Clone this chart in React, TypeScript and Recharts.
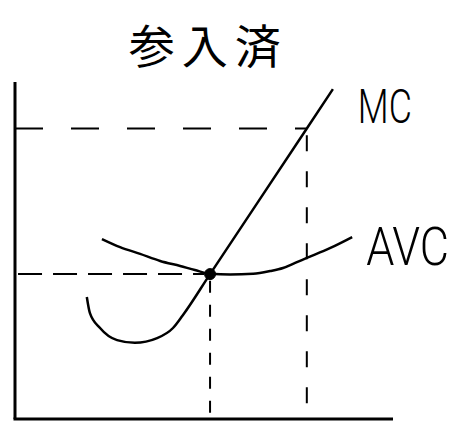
import React from 'react';
import { LineChart, Line, XAxis, YAxis, ReferenceLine, ReferenceDot } from 'recharts';

// hand-drawn cost curves (quantity / cost on 0..100 scales)
const mcQty = [19.0, 19.8, 22.5, 27.0, 31.7, 37.6, 41.8, 44.4, 51.6, 77.2, 84.1];
const mcCost = [36.2, 31.5, 27.0, 23.4, 22.6, 24.0, 27.0, 30.8, 43.0, 86.2, 97.9];

const avcQty = [23.0, 27.8, 33.1, 38.4, 43.7, 47.6, 51.6, 56.9, 63.0, 67.5, 70.9, 74.1, 77.2, 83.3, 89.2];
const avcCost = [53.4, 51.0, 49.0, 46.9, 45.4, 44.2, 43.1, 42.9, 43.1, 43.9, 44.8, 46.3, 47.8, 50.7, 54.0];

// guide levels: price at min AVC / high price, and matching quantities
const priceLevels = [43.0, 86.2];
const qtyLevels = [51.6, 77.2];

const titleText = '参入済';
const curveNames = ['MC', 'AVC'];

const mcData = mcQty.map((q, i) => ({ q, c: mcCost[i] }));
const avcData = avcQty.map((q, i) => ({ q, c: avcCost[i] }));

const handFont = 'Roboto, Inter, "Noto Sans", sans-serif';

const makeLabel = (value: string, opts: { size: number; width?: number; anchor: 'start' | 'middle'; font: string; weight?: number; spacing?: number; central?: boolean; stretchY?: number }) =>
    (props: any) => {
        const vb = props.viewBox || {};
        const x = vb.x + (vb.width || 0) / 2;
        const y = vb.y + (vb.height || 0) / 2;
        const sy = opts.stretchY || 1;
        return (
            <text
                x={0}
                y={0}
                transform={`translate(${x},${y}) scale(1,${sy})`}
                fill="#000"
                fontSize={opts.size}
                fontFamily={opts.font}
                fontWeight={opts.weight || 300}
                textAnchor={opts.anchor}
                dominantBaseline={opts.central ? 'central' : 'alphabetic'}
                letterSpacing={opts.spacing}
                textLength={opts.width}
                lengthAdjust={opts.width ? 'spacingAndGlyphs' : undefined}
            >
                {value}
            </text>
        );
    };

export default function App() {
    return (
        <div style={{ position: 'absolute', left: 0, top: 0, width: 457, height: 422, background: '#fff' }}>
            <LineChart width={457} height={422} margin={{ top: 82, right: 64, bottom: 3, left: 15 }}>
                <XAxis type="number" dataKey="q" domain={[0, 100]} allowDataOverflow hide />
                <YAxis type="number" dataKey="c" domain={[0, 100]} allowDataOverflow hide />

                {/* axes, drawn thick like the sketch */}
                <ReferenceLine segment={[{ x: 0, y: 100 }, { x: 0, y: 0 }]} stroke="#000" strokeWidth={3} ifOverflow="visible" />
                <ReferenceLine segment={[{ x: -0.4, y: 0 }, { x: 100, y: 0 }]} stroke="#000" strokeWidth={3} ifOverflow="visible" />

                <ReferenceLine
                    segment={[{ x: 0.8, y: priceLevels[0] }, { x: 50, y: priceLevels[0] }]}
                    stroke="#000"
                    strokeWidth={2}
                    strokeDasharray="24 11"
                    ifOverflow="visible"
                />
                <ReferenceLine
                    segment={[{ x: 0, y: priceLevels[1] }, { x: qtyLevels[1], y: priceLevels[1] }]}
                    stroke="#000"
                    strokeWidth={2}
                    strokeDasharray="28 28"
                    ifOverflow="visible"
                />
                <ReferenceLine
                    segment={[{ x: qtyLevels[0], y: priceLevels[0] - 2 }, { x: qtyLevels[0], y: 0 }]}
                    stroke="#000"
                    strokeWidth={2}
                    strokeDasharray="12 12"
                    ifOverflow="visible"
                />
                <ReferenceLine
                    segment={[{ x: qtyLevels[1], y: priceLevels[1] - 2 }, { x: qtyLevels[1], y: 0 }]}
                    stroke="#000"
                    strokeWidth={2}
                    strokeDasharray="16 20"
                    ifOverflow="visible"
                />

                <Line data={avcData} dataKey="c" type="monotone" stroke="#000" strokeWidth={2.5} dot={false} isAnimationActive={false} />
                <Line data={mcData} dataKey="c" type="monotone" stroke="#000" strokeWidth={2.5} dot={false} isAnimationActive={false} />

                <ReferenceDot x={qtyLevels[0]} y={priceLevels[0]} r={5.5} fill="#000" stroke="#000" ifOverflow="visible" />

                <ReferenceDot
                    x={51.1}
                    y={111.6}
                    r={0}
                    fill="none"
                    stroke="none"
                    ifOverflow="visible"
                    label={makeLabel(titleText, { size: 46, anchor: 'middle', font: '"Noto Sans CJK JP", sans-serif', weight: 400, spacing: 7, central: true })}
                />
                <ReferenceDot
                    x={90.7}
                    y={87.8}
                    r={0}
                    fill="none"
                    stroke="none"
                    ifOverflow="visible"
                    label={makeLabel(curveNames[0], { size: 49, width: 54, anchor: 'start', font: handFont })}
                />
                <ReferenceDot
                    x={92.9}
                    y={45.7}
                    r={0}
                    fill="none"
                    stroke="none"
                    ifOverflow="visible"
                    label={makeLabel(curveNames[1], { size: 45, anchor: 'start', font: handFont, stretchY: 1.18 })}
                />
            </LineChart>
        </div>
    );
}
